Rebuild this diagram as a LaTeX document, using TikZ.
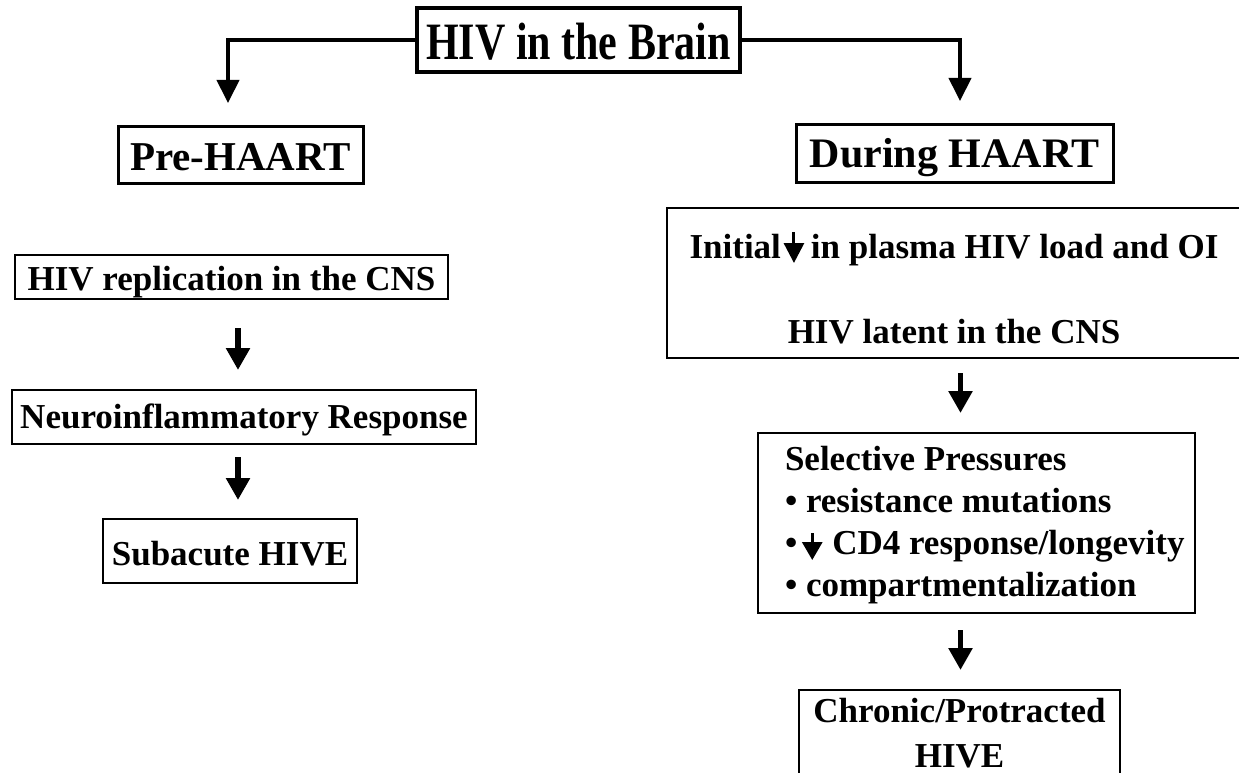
\documentclass[tikz,border=0pt]{standalone}
\usepackage{fontspec}
\setmainfont{Liberation Serif}
\usepackage{graphicx}
\usetikzlibrary{arrows.meta}
\newcommand{\Cl}[1]{\hbox to \hsize{\hfil#1\hfil}}
\newcommand{\Ll}[1]{\hbox to \hsize{\hskip27pt#1\hfil}}
\newcommand{\bx}[5]{\vbox to #2{\hsize=#1\relax\baselineskip=#4\relax\lineskiplimit=-1000pt\relax\lineskip=0pt\relax\kern\dimexpr#3-#4\relax\hbox{}#5\vss}}
\newcommand{\dnarr}[5]{\tikz[baseline=0pt]\draw[line width=#1,-{Triangle[width=#2,length=#3]}] (0pt,#4) -- (0pt,#5);}
\begin{document}
\begin{tikzpicture}[x=1pt,y=-1pt,
  plainbox/.style={draw, inner sep=0pt, outer sep=0pt, anchor=north west, line width=1.5pt},
  heavybox/.style={plainbox, line width=3pt},
  body/.style={font=\bfseries\fontsize{35pt}{42pt}\selectfont},
  head/.style={font=\bfseries\fontsize{42pt}{50pt}\selectfont},
  conn/.style={line width=4pt, -{Triangle[width=22pt,length=23pt]}},
  arr/.style={line width=5.5pt, -{Triangle[width=23pt,length=22pt]}}]
\useasboundingbox (0,0) rectangle (1239,773);
\fill[white] (0,0) rectangle (1239,773);
\clip (0,0) rectangle (1239,773);

\node[heavybox, line width=3.5pt, head] (top) at (417,8)
  {\bx{323pt}{64pt}{52pt}{50pt}{\Cl{\scalebox{1}[1.25]{HIV in the Brain}}}};
\node[heavybox, head, font=\bfseries\fontsize{41pt}{50pt}\selectfont] (pre) at (118,127)
  {\bx{245pt}{56pt}{43pt}{50pt}{\Cl{Pre-HAART}}};
\node[heavybox, head] (during) at (796,125)
  {\bx{317pt}{57pt}{43pt}{50pt}{\Cl{During HAART}}};

\node[plainbox, body] (init) at (667,208)
  {\bx{574pt}{150pt}{50pt}{85pt}{%
    \Cl{Initial\kern3pt\dnarr{3pt}{20pt}{20pt}{26pt}{-5pt}\kern7pt in plasma HIV load and OI}
    \Cl{HIV latent in the CNS}}};

\node[plainbox, body] (rep) at (15,255)
  {\bx{433pt}{44pt}{35pt}{42pt}{\Cl{HIV replication in the CNS}}};
\node[plainbox, body] (neuro) at (12,390)
  {\bx{464pt}{54pt}{38pt}{42pt}{\Cl{Neuroinflammatory Response}}};
\node[plainbox, body] (sub) at (103,519)
  {\bx{254pt}{64pt}{46pt}{42pt}{\Cl{Subacute HIVE}}};

\node[plainbox, body] (sel) at (758,433)
  {\bx{437pt}{180pt}{37pt}{42pt}{%
    \Ll{Selective Pressures}
    \Ll{• resistance mutations}
    \Ll{•\kern5pt\dnarr{3pt}{20pt}{18pt}{21pt}{-6pt}\kern10pt CD4 response/longevity}
    \Ll{• compartmentalization}}};
\node[plainbox, body] (chr) at (799,690)
  {\bx{321pt}{110pt}{32pt}{45pt}{%
    \Cl{Chronic/Protracted}
    \Cl{HIVE}}};

\coordinate (lt) at (228,103);
\coordinate (rt) at (960,101);
\coordinate (lc) at (238,0);
\coordinate (rc) at (960.5,0);

\draw[conn] (top.west) -| (lt);
\draw[conn] (top.east) -| (rt);
\draw[arr, shorten <=29pt, shorten >=20pt] (rep.south -| lc) -- (neuro.north -| lc);
\draw[arr, shorten <=13pt, shorten >=19pt] (neuro.south -| lc) -- (sub.north -| lc);
\draw[arr, shorten <=15pt, shorten >=20pt] (init.south -| rc) -- (sel.north -| rc);
\draw[arr, shorten <=17pt, shorten >=20pt] (sel.south -| rc) -- (chr.north -| rc);
\end{tikzpicture}
\end{document}
